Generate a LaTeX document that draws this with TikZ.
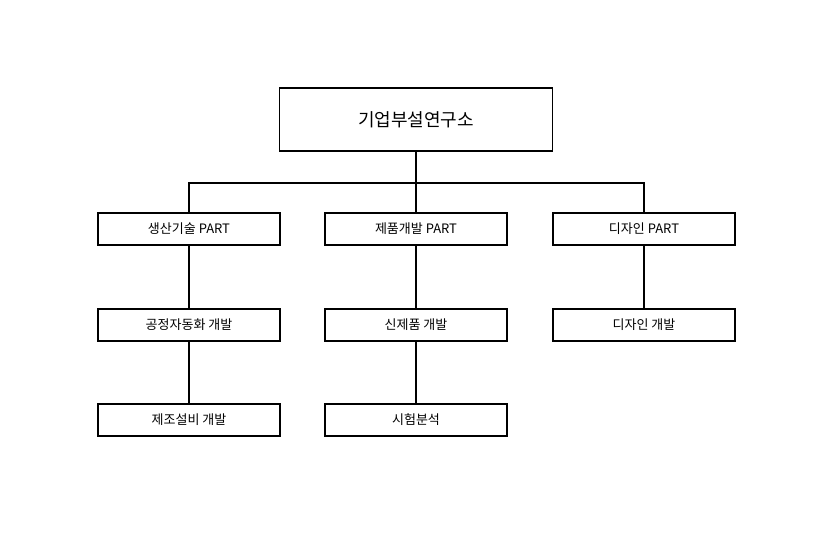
\documentclass[tikz,border=0pt]{standalone}
\usepackage{fontspec}
\setmainfont{Noto Sans CJK KR}
\usetikzlibrary{positioning}
\tikzset{
  part/.style={draw, line width=1.2pt, minimum width=182pt, minimum height=32pt, inner sep=0pt, font=\fontsize{13}{15}\selectfont},
  top/.style={part, minimum width=273pt, minimum height=63pt, font=\fontsize{18}{20}\selectfont},
  link/.style={line width=1.2pt}
}
\begin{document}
\begin{tikzpicture}[x=1pt,y=-1pt]
\useasboundingbox (0,0) rectangle (838,541);

% Top
\node[top] (lab) at (416,119.5) {기업부설연구소};

% Parts
\node[part] (prod) at (189,229) {생산기술 PART};
\node[part] (dev) at (416,229) {제품개발 PART};
\node[part] (des) at (644,229) {디자인 PART};

% Tasks
\node[part] (auto) at (189,325) {공정자동화 개발};
\node[part] (new) at (416,325) {신제품 개발};
\node[part] (desdev) at (644,325) {디자인 개발};
\node[part] (equip) at (189,420) {제조설비 개발};
\node[part] (test) at (416,420) {시험분석};

% Links
\coordinate (bus) at (416,183);
\draw[link] (lab.south) -- (bus);
\draw[link] (prod.north) |- (bus) -| (des.north);
\draw[link] (bus) -- (dev.north);
\draw[link] (prod) -- (auto);
\draw[link] (auto) -- (equip);
\draw[link] (dev) -- (new);
\draw[link] (new) -- (test);
\draw[link] (des) -- (desdev);

\end{tikzpicture}
\end{document}
